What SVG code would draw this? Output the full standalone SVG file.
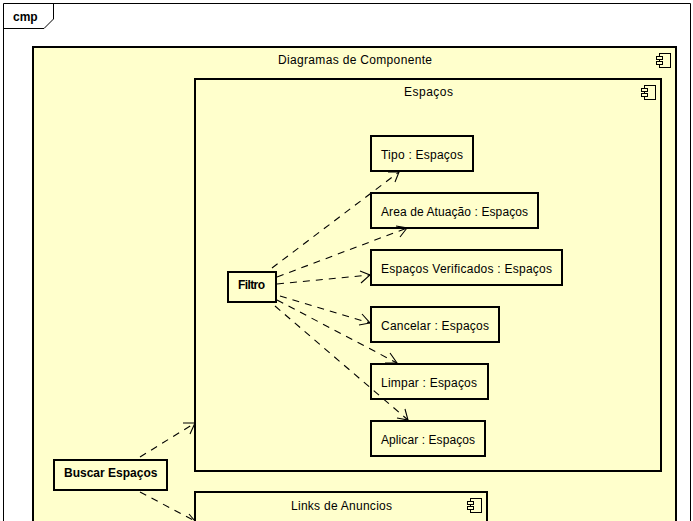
<svg xmlns="http://www.w3.org/2000/svg" width="693" height="521" viewBox="0 0 693 521">
<style>
text{font-family:"Liberation Sans",Arial,sans-serif;font-size:12px;fill:#000}
.b{font-weight:bold}
.m{text-anchor:middle}
.box{fill:#ffffcc;stroke:#000;stroke-width:2}
.ic{fill:#ffffcc;stroke:#000;stroke-width:1}
.dash{fill:none;stroke:#000;stroke-width:1.1;stroke-dasharray:7 6}
.head{fill:none;stroke:#000;stroke-width:1.1}
</style>
<defs>
<g id="icon">
<rect class="ic" x="2.5" y="0.5" width="11" height="14"/>
<rect class="ic" x="-0.5" y="3.5" width="6" height="3"/>
<rect class="ic" x="-0.5" y="8.5" width="6" height="3"/>
</g>
</defs>
<rect width="693" height="521" fill="#fff"/>
<g id="frame">
<path d="M3.5 521V3.5H690.5V521" fill="none" stroke="#000"/>
<path d="M3.5 28.5H44L53.5 19V3.5" fill="none" stroke="#000"/>
<text class="b" x="13" y="21">cmp</text>
</g>
<g id="diagramas">
<rect class="box" x="33" y="47" width="643" height="490"/>
<use href="#icon" x="657" y="53"/>
<text x="278" y="64" textLength="154">Diagramas de Componente</text>
</g>
<g id="espacos">
<rect class="box" x="195" y="79" width="466" height="392"/>
<use href="#icon" x="642" y="85"/>
<text x="404" y="96" textLength="49">Espaços</text>
</g>
<g id="links">
<rect class="box" x="195" y="492" width="292" height="50"/>
<use href="#icon" x="468" y="498"/>
<text x="291" y="510" textLength="101">Links de Anuncios</text>
</g>
<g id="tipo"><rect class="box" x="371" y="136" width="102" height="35"/><text x="381" y="159" textLength="82">Tipo : Espaços</text></g>
<g id="area"><rect class="box" x="371" y="193" width="167" height="35"/><text x="381" y="216" textLength="147">Area de Atuação : Espaços</text></g>
<g id="verificados"><rect class="box" x="371" y="250" width="191" height="35"/><text x="381" y="273" textLength="171">Espaços Verificados : Espaços</text></g>
<g id="cancelar"><rect class="box" x="371" y="307" width="128" height="35"/><text x="381" y="330" textLength="108">Cancelar : Espaços</text></g>
<g id="limpar"><rect class="box" x="371" y="364" width="117" height="35"/><text x="381" y="387" textLength="96">Limpar : Espaços</text></g>
<g id="aplicar"><rect class="box" x="371" y="421" width="114" height="35"/><text x="381" y="444" textLength="94">Aplicar : Espaços</text></g>
<g id="filtro"><rect class="box" x="228" y="272" width="48" height="30"/><text class="b" x="238" y="289" textLength="27">Filtro</text></g>
<g id="buscar"><rect class="box" x="54" y="460" width="113" height="30"/><text class="b" x="64" y="477">Buscar Espaços</text></g>
<g id="connectors">
<path class="dash" d="M272 268L399 172"/><path class="head" d="M388 172H399L395 182"/>
<path class="dash" d="M277 277L407 228"/><path class="head" d="M396 226L407 228L400 237"/>
<path class="dash" d="M277 284L370 275"/><path class="head" d="M360 271L370 275L361 283"/>
<path class="dash" d="M280 296L370 323"/><path class="head" d="M362 314L370 323L359 325"/>
<path class="dash" d="M277 300L397 363"/><path class="head" d="M390 353L397 363L385 363"/>
<path class="dash" d="M275 306L408 420"/><path class="head" d="M405 409L408 420L397 418"/>
<path class="dash" d="M140 457L195 423"/><path class="head" d="M183 423H195L190 434"/>
<path class="dash" d="M140 492L195 521"/><path class="head" d="M189 514L195 521"/>
</g>
</svg>
